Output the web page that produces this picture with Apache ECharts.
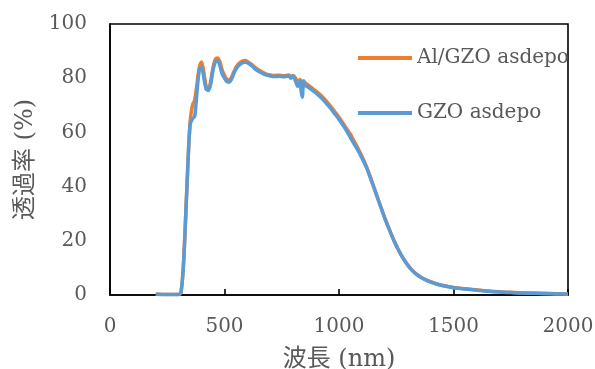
<!DOCTYPE html>
<html>
<head>
<meta charset="utf-8">
<script src="https://cdn.jsdelivr.net/npm/echarts@6/dist/echarts.min.js"></script>
<style>
  html, body { margin: 0; padding: 0; background: #fff; }
  #chart { width: 595px; height: 369px; }
</style>
</head>
<body>
<div id="chart"></div>
<script>
// Wavelength samples (nm)
const wavelengths = [200,250,300,310,320,330,340,350,360,370,380,390,400,410,420,430,440,450,460,470,480,490,500,510,520,530,540,550,560,570,580,590,600,620,640,660,680,700,720,740,760,780,790,800,810,820,830,835,840,845,850,860,880,900,920,940,960,980,1000,1020,1040,1050,1060,1080,1100,1120,1140,1160,1180,1200,1220,1240,1260,1280,1300,1320,1340,1360,1380,1400,1450,1500,1550,1600,1650,1700,1750,1800,1850,1900,1950,2000];

// Transmittance (%) of the Al/GZO as-deposited film
const alGzo = [0.3,0.2,0.2,1,10,28,48,64,70,72,78,84,86,82,77,76,79,84,87,87.5,86,83,81,79.6,79.3,80.2,82.2,84,85.2,85.9,86.4,86.5,86.2,85,83.5,82.5,81.6,81.2,81,81.1,80.9,81.2,80.6,81,80,78.5,79.5,78,77.5,79,78.5,77.8,76.5,75.2,73.8,72,70,67.8,65.6,63.1,60.5,59.4,57.6,54.6,51.2,47.4,42.8,38,33.2,28.5,24.2,20.1,16.6,13.6,11.1,9.1,7.6,6.5,5.6,4.9,3.6,2.8,2.3,1.9,1.5,1.2,1,0.8,0.7,0.6,0.5,0.4];

// Transmittance (%) of the GZO as-deposited film
const gzo = [0.3,0.2,0.2,1,10,28,48,63,65,66,75,83,84,80,76,75.5,78,83,86,86.5,84.5,81.5,80,78.8,78.5,79.5,81.5,83.3,84.5,85.2,85.7,85.9,85.7,84.5,83,82,81.2,80.8,80.6,80.7,80.5,80.9,80,80.8,79,77,79,75,73,79,77.5,77,75.8,74.5,73,71.2,69.2,67,64.8,62.3,59.6,58.1,56.6,53.8,50.6,47,42.5,37.8,33,28.3,24,20,16.5,13.5,11,9,7.5,6.4,5.5,4.8,3.5,2.7,2.2,1.8,1.4,1.1,0.9,0.7,0.6,0.5,0.4,0.3];

const xTicks = [0, 500, 1000, 1500, 2000];
const yTicks = [0, 20, 40, 60, 80, 100];

const pairs = (ys) => wavelengths.map((w, i) => [w, ys[i]]);

const textColor = '#595959';
const serif = "'DejaVu Serif', 'Noto Sans CJK JP', serif";

const chart = echarts.init(document.getElementById('chart'), null, { renderer: 'canvas' });
chart.setOption({
  animation: false,
  backgroundColor: '#fff',
  grid: {
    left: 110, right: 27, top: 24, bottom: 74,
    containLabel: false, outerBoundsMode: 'none',
    show: true, borderColor: '#000', borderWidth: 1.6, backgroundColor: 'transparent'
  },
  legend: {
    orient: 'vertical',
    left: 353, top: 43,
    itemWidth: 54, itemHeight: 4, itemGap: 35, itemTextGap: 5,
    icon: 'rect',
    textStyle: { fontFamily: serif, fontSize: 20, color: textColor, lineHeight: 20 },
    data: ['Al/GZO asdepo', 'GZO asdepo']
  },
  xAxis: {
    type: 'value',
    min: xTicks[0], max: xTicks[xTicks.length - 1], interval: xTicks[1] - xTicks[0],
    name: '波長 (nm)', nameLocation: 'middle', nameGap: 53,
    nameTextStyle: { fontFamily: serif, fontSize: 24, color: textColor },
    axisLine: { show: true, lineStyle: { color: '#000', width: 1.6 } },
    axisTick: { show: true, inside: true, length: 6, lineStyle: { color: '#000', width: 1.6 } },
    axisLabel: { fontFamily: serif, fontSize: 20, color: textColor, margin: 22, formatter: (v) => String(v) },
    splitLine: { show: false }
  },
  yAxis: {
    type: 'value',
    min: yTicks[0], max: yTicks[yTicks.length - 1], interval: yTicks[1] - yTicks[0],
    name: '透過率 (%)', nameLocation: 'middle', nameGap: 70,
    nameTextStyle: { fontFamily: serif, fontSize: 24, color: textColor },
    axisLine: { show: true, lineStyle: { color: '#000', width: 1.6 } },
    axisTick: { show: false },
    axisLabel: { fontFamily: serif, fontSize: 20, color: textColor, margin: 23, formatter: (v) => String(v) },
    splitLine: { show: false }
  },
  series: [
    {
      name: 'Al/GZO asdepo', type: 'line', data: pairs(alGzo),
      showSymbol: false, symbol: 'none', smooth: 0.3,
      lineStyle: { color: '#ED7D31', width: 3.5 }, itemStyle: { color: '#ED7D31' }
    },
    {
      name: 'GZO asdepo', type: 'line', data: pairs(gzo),
      showSymbol: false, symbol: 'none', smooth: 0.3,
      lineStyle: { color: '#5B9BD5', width: 3.5 }, itemStyle: { color: '#5B9BD5' }
    }
  ]
});
</script>
</body>
</html>
